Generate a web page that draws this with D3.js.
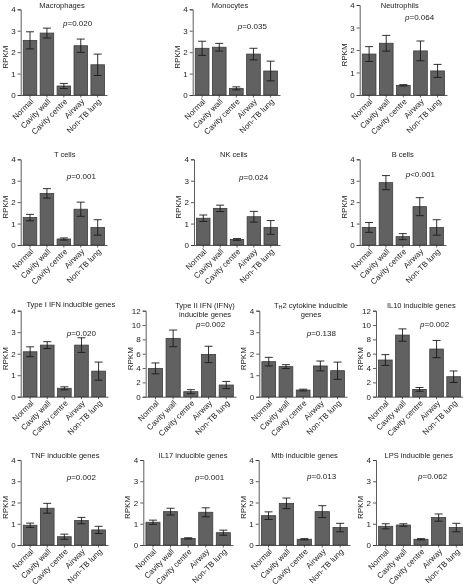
<!DOCTYPE html>
<html><head><meta charset="utf-8">
<script src="https://cdn.jsdelivr.net/npm/d3@7"></script>
<style>
body{margin:0;background:#fff}
svg{will-change:transform}
text{font-family:Arial,"Liberation Sans",sans-serif;fill:#222}
</style>
</head><body>
<svg id="c" width="463" height="588"></svg>
<script>
// ---------------- DATA ----------------
const categories = ["Normal", "Cavity wall", "Cavity centre", "Airway", "Non-TB lung"];

const titles = [
  ["Macrophages"], ["Monocytes"], ["Neutrophils"],
  ["T cells"], ["NK cells"], ["B cells"],
  ["Type I IFN inducible genes"], ["Type II IFN (IFN\u03b3)", "inducible genes"],
  ["TH2 cytokine inducible", "genes"], ["IL10 inducible genes"],
  ["TNF inducible genes"], ["IL17 inducible genes"], ["Mtb inducible genes"], ["LPS inducible genes"]
];
const pOps  = ["=", "=", "=", "=", "=", "<", "=", "=", "=", "=", "=", "=", "=", "="];
const pNums = ["0.020", "0.035", "0.064", "0.001", "0.024", "0.001", "0.020", "0.002", "0.138", "0.002", "0.002", "0.001", "0.013", "0.062"];
const yMax  = [4, 4, 4, 4, 4, 4, 4, 12, 4, 12, 4, 4, 4, 4];

const macrophagesMean = [2.55, 2.89, 0.42, 2.30, 1.41];
const macrophagesErr  = [0.40, 0.23, 0.12, 0.31, 0.50];
const monocytesMean   = [2.18, 2.23, 0.31, 1.91, 1.12];
const monocytesErr    = [0.33, 0.18, 0.07, 0.27, 0.46];
const neutrophilsMean = [1.82, 2.30, 0.43, 1.96, 1.07];
const neutrophilsErr  = [0.33, 0.35, 0.03, 0.44, 0.29];
const tCellsMean      = [1.28, 2.41, 0.28, 1.67, 0.82];
const tCellsErr       = [0.15, 0.22, 0.05, 0.33, 0.36];
const nkCellsMean     = [1.25, 1.71, 0.26, 1.32, 0.82];
const nkCellsErr      = [0.15, 0.15, 0.04, 0.25, 0.32];
const bCellsMean      = [0.82, 2.91, 0.39, 1.79, 0.82];
const bCellsErr       = [0.23, 0.33, 0.14, 0.42, 0.36];
const ifn1Mean        = [2.09, 2.40, 0.39, 2.40, 1.19];
const ifn1Err         = [0.23, 0.16, 0.07, 0.34, 0.42];
const ifn2Mean        = [3.95, 8.14, 0.70, 5.90, 1.63];
const ifn2Err         = [0.76, 1.16, 0.28, 1.14, 0.50];
const th2Mean         = [1.63, 1.40, 0.31, 1.43, 1.21];
const th2Err          = [0.20, 0.09, 0.04, 0.23, 0.40];
const il10Mean        = [5.12, 8.60, 1.02, 6.65, 2.79];
const il10Err         = [0.75, 0.86, 0.26, 1.20, 0.80];
const tnfMean         = [0.93, 1.73, 0.39, 1.15, 0.71];
const tnfErr          = [0.10, 0.23, 0.12, 0.15, 0.17];
const il17Mean        = [1.07, 1.57, 0.31, 1.54, 0.58];
const il17Err         = [0.10, 0.16, 0.03, 0.21, 0.12];
const mtbMean         = [1.38, 1.96, 0.27, 1.57, 0.82];
const mtbErr          = [0.18, 0.25, 0.03, 0.28, 0.20];
const lpsMean         = [0.88, 0.94, 0.27, 1.29, 0.82];
const lpsErr          = [0.12, 0.06, 0.03, 0.17, 0.20];

const means = [macrophagesMean, monocytesMean, neutrophilsMean, tCellsMean, nkCellsMean, bCellsMean,
  ifn1Mean, ifn2Mean, th2Mean, il10Mean, tnfMean, il17Mean, mtbMean, lpsMean];
const errs = [macrophagesErr, monocytesErr, neutrophilsErr, tCellsErr, nkCellsErr, bCellsErr,
  ifn1Err, ifn2Err, th2Err, il10Err, tnfErr, il17Err, mtbErr, lpsErr];

// ---------------- LAYOUT ----------------
// x0: y-axis x, x1: end of x range, yT: y of top tick, yB: y of zero
// tx,ty: title centre / first baseline; px,py: p-value text start / baseline
const layout = [
  {x0: 20.7, x1: 107, yT: 9.3, yB: 95, tx: 62, ty: 7.5, px: 63, py: 26},
  {x0: 192.7, x1: 280, yT: 9.3, yB: 95, tx: 230, ty: 7.5, px: 237.7, py: 28.5},
  {x0: 359.7, x1: 447, yT: 5, yB: 95, tx: 399.7, ty: 7.5, px: 405, py: 20},
  {x0: 20.7, x1: 107, yT: 159.3, yB: 245, tx: 64.7, ty: 157, px: 66.7, py: 179},
  {x0: 194, x1: 280, yT: 159.3, yB: 245, tx: 233.8, ty: 157, px: 239, py: 180},
  {x0: 359.7, x1: 446, yT: 159.3, yB: 245, tx: 402.7, ty: 157, px: 405.7, py: 177},
  {x0: 20.7, x1: 108, yT: 310.7, yB: 396.7, tx: 70.8, ty: 307, px: 66.7, py: 335.5},
  {x0: 145.7, x1: 236, yT: 310.7, yB: 396.7, tx: 205, ty: 307.5, px: 196, py: 327},
  {x0: 259.3, x1: 347, yT: 310.7, yB: 396.7, tx: 311, ty: 307.5, px: 306.7, py: 336},
  {x0: 376, x1: 463, yT: 310.7, yB: 396.7, tx: 421.3, ty: 307.5, px: 420, py: 327},
  {x0: 20.7, x1: 108, yT: 460, yB: 545, tx: 65, ty: 457.5, px: 66.7, py: 479.5},
  {x0: 143.3, x1: 233, yT: 460, yB: 545, tx: 193, ty: 457.5, px: 195, py: 479.5},
  {x0: 258.7, x1: 350, yT: 460, yB: 545, tx: 304.5, ty: 457.5, px: 307, py: 479},
  {x0: 376, x1: 466, yT: 460, yB: 545, tx: 418.7, ty: 457.5, px: 418, py: 479}
];

const svg = d3.select("#c");
const FONT = 7.5;

layout.forEach((L, i) => {
  const g = svg.append("g");
  const x = d3.scaleBand().domain(categories).range([L.x0, L.x1]).paddingInner(0.2).paddingOuter(0.15);
  const y = d3.scaleLinear().domain([0, yMax[i]]).range([L.yB, L.yT]);
  const data = categories.map((c, k) => ({c, v: means[i][k], e: errs[i][k]}));

  // bars
  g.selectAll("rect.bar").data(data).join("rect")
    .attr("x", d => x(d.c)).attr("width", x.bandwidth())
    .attr("y", d => y(d.v)).attr("height", d => y(0) - y(d.v))
    .attr("fill", "#616161").attr("stroke", "#3c3c3c").attr("stroke-width", 0.8);

  // error bars
  const cap = 4;
  const eb = g.selectAll("g.eb").data(data).join("g").attr("stroke", "#1a1a1a").attr("stroke-width", 0.9);
  eb.append("line").attr("x1", d => x(d.c) + x.bandwidth()/2).attr("x2", d => x(d.c) + x.bandwidth()/2)
    .attr("y1", d => y(d.v + d.e)).attr("y2", d => y(Math.max(0, d.v - d.e)));
  eb.append("line").attr("x1", d => x(d.c) + x.bandwidth()/2 - cap).attr("x2", d => x(d.c) + x.bandwidth()/2 + cap)
    .attr("y1", d => y(d.v + d.e)).attr("y2", d => y(d.v + d.e));
  eb.append("line").attr("x1", d => x(d.c) + x.bandwidth()/2 - cap).attr("x2", d => x(d.c) + x.bandwidth()/2 + cap)
    .attr("y1", d => y(Math.max(0, d.v - d.e))).attr("y2", d => y(Math.max(0, d.v - d.e)));

  // y axis
  const ya = g.append("g").attr("transform", `translate(${L.x0},0)`)
    .call(d3.axisLeft(y).ticks(yMax[i] === 12 ? 6 : 4).tickSize(3).tickPadding(2).tickFormat(d3.format("d")));
  ya.select(".domain").attr("stroke", "#333").attr("stroke-width", 0.8);
  ya.selectAll(".tick line").attr("stroke", "#333").attr("stroke-width", 0.8);
  ya.selectAll(".tick text").attr("font-size", 8).attr("fill", "#222").attr("font-family", "Arial, 'Liberation Sans', sans-serif");

  // x axis
  const xa = g.append("g").attr("transform", `translate(0,${L.yB})`)
    .call(d3.axisBottom(x).tickSize(2.5).tickSizeOuter(0).tickFormat(""));
  xa.select(".domain").attr("stroke", "#333").attr("stroke-width", 0.8);
  xa.selectAll(".tick line").attr("stroke", "#333").attr("stroke-width", 0.8);

  // x labels rotated
  g.selectAll("text.xl").data(categories).join("text")
    .attr("text-anchor", "end").attr("font-size", 8)
    .attr("transform", c => `translate(${x(c) + x.bandwidth()/2 + 2},${L.yB + 5}) rotate(-45)`)
    .attr("dy", "0.35em")
    .text(c => c);

  // y label
  g.append("text").attr("text-anchor", "middle").attr("font-size", 8)
    .attr("transform", `translate(${L.x0 - 13},${(L.yT + L.yB)/2 + 5}) rotate(-90)`)
    .text("RPKM");

  // title
  titles[i].forEach((line, j) => {
    const t = g.append("text").attr("text-anchor", "middle").attr("font-size", FONT)
      .attr("x", L.tx).attr("y", L.ty + j * 9);
    if (line.startsWith("TH2")) {
      t.append("tspan").text("T");
      t.append("tspan").attr("font-size", 5.5).attr("dy", 1.5).text("H");
      t.append("tspan").attr("dy", -1.5).text(line.slice(2));
    } else {
      t.text(line);
    }
  });

  // p value
  const p = g.append("text").attr("font-size", 8).attr("x", L.px).attr("y", L.py);
  p.append("tspan").attr("font-style", "italic").text("p");
  p.append("tspan").text(pOps[i] + pNums[i]);
});
</script>
</body></html>
